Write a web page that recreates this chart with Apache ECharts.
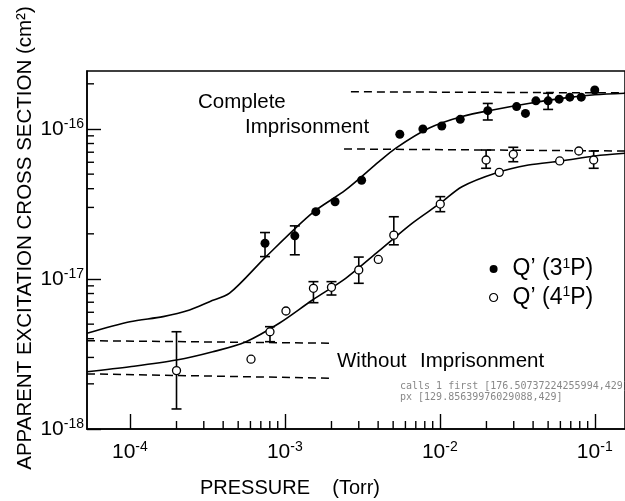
<!DOCTYPE html>
<html><head><meta charset="utf-8">
<script src="https://cdn.jsdelivr.net/npm/echarts@6/dist/echarts.min.js"></script>
<style>html,body{margin:0;padding:0;background:#fff}#c{width:625px;height:501px}#log{position:absolute;left:400px;top:380px;font:10px monospace;white-space:pre;color:#888}</style>
</head><body><div id="c"></div><div id="log"></div>
<script>
const dlog = m => { document.getElementById('log').textContent += m + '\n'; };
window.onerror = m => dlog('ERR ' + m);
// ---------------- data ----------------
const q3P_x = [7.45e-4, 1.16e-3, 1.585e-3, 2.11e-3, 3.13e-3, 5.52e-3, 7.78e-3, 1.03e-2, 1.355e-2, 2.04e-2, 3.13e-2, 3.57e-2, 4.17e-2, 5.0e-2, 5.89e-2, 6.90e-2, 8.18e-2, 0.100];
const q3P_y = [1.73e-17, 1.94e-17, 2.81e-17, 3.27e-17, 4.55e-17, 9.22e-17, 1.0e-16, 1.047e-16, 1.16e-16, 1.325e-16, 1.41e-16, 1.27e-16, 1.54e-16, 1.54e-16, 1.58e-16, 1.63e-16, 1.63e-16, 1.82e-16];
const q3P_errX = [7.45e-4, 1.16e-3, 2.04e-2, 5.0e-2];
const q3P_errLow = [1.41e-17, 1.45e-17, 1.148e-16, 1.35e-16];
const q3P_errHigh = [2.04e-17, 2.26e-17, 1.48e-16, 1.73e-16];
const q4P_x = [2.0e-4, 6.05e-4, 8.02e-4, 1.017e-3, 1.53e-3, 2.0e-3, 3.0e-3, 4.01e-3, 5.05e-3, 1.007e-2, 1.99e-2, 2.42e-2, 2.98e-2, 5.94e-2, 7.89e-2, 9.84e-2];
const q4P_y = [2.45e-18, 2.92e-18, 4.45e-18, 6.12e-18, 8.67e-18, 8.8e-18, 1.148e-17, 1.35e-17, 1.96e-17, 3.16e-17, 6.21e-17, 5.14e-17, 6.78e-17, 6.12e-17, 7.13e-17, 6.21e-17];
const q4P_errX = [2.0e-4, 8.02e-4, 1.53e-3, 2.0e-3, 3.0e-3, 5.05e-3, 1.007e-2, 1.99e-2, 2.98e-2, 9.84e-2];
const q4P_errLow = [1.36e-18, 3.82e-18, 6.95e-18, 7.82e-18, 9.36e-18, 1.69e-17, 2.81e-17, 5.47e-17, 6.05e-17, 5.47e-17];
const q4P_errHigh = [4.45e-18, 4.81e-18, 9.6e-18, 9.6e-18, 1.40e-17, 2.60e-17, 3.54e-17, 7.24e-17, 7.55e-17, 7.13e-17];
const curve3_x = [5.29e-5, 1.0e-4, 1.64e-4, 2.43e-4, 3.27e-4, 4.40e-4, 7.57e-4, 1.50e-3, 2.47e-3, 4.05e-3, 5.18e-3, 8.48e-3, 1.39e-2, 2.28e-2, 3.73e-2, 6.10e-2, 0.100, 0.1567];
const curve3_y = [4.35e-18, 5.19e-18, 5.61e-18, 6.21e-18, 7.06e-18, 8.04e-18, 1.41e-17, 2.75e-17, 3.92e-17, 6.05e-17, 7.43e-17, 1.01e-16, 1.21e-16, 1.35e-16, 1.48e-16, 1.60e-16, 1.69e-16, 1.73e-16];
const curve4_x = [5.29e-5, 1.0e-4, 2.0e-4, 3.43e-4, 5.62e-4, 9.2e-4, 1.51e-3, 2.47e-3, 4.05e-3, 6.62e-3, 1.007e-2, 1.39e-2, 2.28e-2, 3.73e-2, 6.10e-2, 0.100, 0.1567];
const curve4_y = [2.41e-18, 2.60e-18, 2.88e-18, 3.27e-18, 3.82e-18, 5.07e-18, 7.24e-18, 1.01e-17, 1.54e-17, 2.35e-17, 3.20e-17, 4.12e-17, 5.07e-17, 5.75e-17, 6.12e-17, 6.61e-17, 6.89e-17];
const dashC3_x = [2.67e-3, 0.1567], dashC3_y = [1.77e-16, 1.74e-16];
const dashC4_x = [2.41e-3, 0.1567], dashC4_y = [7.36e-17, 7.13e-17];
const dashW3_x = [5.29e-5, 2.02e-3], dashW3_y = [3.88e-18, 3.73e-18];
const dashW4_x = [5.29e-5, 2.02e-3], dashW4_y = [2.33e-18, 2.18e-18];
const xMin = 5.29e-5, xMax = 0.1567;
const yMin = 1e-18, yMax = 2.435e-16;
const xMajorTicks = [1e-4, 1e-3, 1e-2, 1e-1];
const xTickLabels = ['-4', '-3', '-2', '-1'];
const yMajorTicks = [1e-18, 1e-17, 1e-16];
const yTickLabels = ['-18', '-17', '-16'];
const minorMultipliers = [2, 3, 4, 5, 6, 7, 8, 9];
const seriesNames = ['Q3P', 'Q4P'];
const legendLabels = [['Q\u2019 (3', '1', 'P)'], ['Q\u2019 (4', '1', 'P)']];

const FONT = 'Liberation Sans, Arial, sans-serif';
const black = '#000';
const zip = (xs, ys) => xs.map((x, i) => [x, ys[i]]);
const zip3 = (xs, a, b) => xs.map((x, i) => [x, a[i], b[i]]);
const minorFrom = (majors, lo, hi) => {
  const out = [];
  majors.forEach(m => minorMultipliers.forEach(k => { const v = m * k; if (v > lo && v < hi) out.push(v); }));
  return out;
};
const xMinor = minorFrom(xMajorTicks, xMin, xMax);
const yMinor = minorFrom(yMajorTicks, yMin, yMax);
const findLabel = (ticks, labels, v) => {
  const i = ticks.findIndex(t => Math.abs(Math.log10(t) - Math.log10(v)) < 1e-6);
  return i < 0 ? null : labels[i];
};
const supLabel = (ticks, labels) => v => { const l = findLabel(ticks, labels, v); return l === null ? '' : '{b|10}{s|' + l + '}'; };
const rich = {
  b: { fontSize: 21, fontFamily: FONT, color: black, lineHeight: 24 },
  s: { fontSize: 14, fontFamily: FONT, color: black, verticalAlign: 'top', lineHeight: 14 }
};
function errRender(params, api) {
  const x = api.value(0), lo = api.value(1), hi = api.value(2);
  const p1 = api.coord([x, hi]), p2 = api.coord([x, lo]);
  const w = 5, st = { stroke: black, lineWidth: 1.6 };
  return { type: 'group', children: [
    { type: 'line', shape: { x1: p1[0], y1: p1[1], x2: p2[0], y2: p2[1] }, style: st },
    { type: 'line', shape: { x1: p1[0] - w, y1: p1[1], x2: p1[0] + w, y2: p1[1] }, style: st },
    { type: 'line', shape: { x1: p2[0] - w, y1: p2[1], x2: p2[0] + w, y2: p2[1] }, style: st }
  ]};
}
let tickCalls = 0, firstTick = '';
function tickRender(params, api) {
  tickCalls++;
  const ch = [];
  const xt = (v, len) => { const a = api.coord([v, yMin]); if (!firstTick) firstTick = JSON.stringify(a); ch.push({ type: 'line', shape: { x1: a[0], y1: a[1], x2: a[0], y2: a[1] - len }, style: { stroke: black, lineWidth: 1.4 } }); };
  const yt = (v, len) => { const a = api.coord([xMin, v]); ch.push({ type: 'line', shape: { x1: a[0], y1: a[1], x2: a[0] + len, y2: a[1] }, style: { stroke: black, lineWidth: 1.4 } }); };
  xMinor.forEach(v => xt(v, 8));
  yMinor.forEach(v => yt(v, 7));
  return { type: 'group', children: ch };
}
const dashStyle = { color: black, width: 1.5, type: [8, 5] };
const mkLine = (xs, ys, dashed) => ({
  type: 'line', data: zip(xs, ys), showSymbol: false, symbol: 'none', silent: true,
  smooth: dashed ? false : 0.3, z: 1,
  lineStyle: dashed ? dashStyle : { color: black, width: 1.6 }
});
const txt = (x, y, text) => ({ type: 'text', x, y, silent: true,
  style: { text, fontSize: 20.5, fontFamily: FONT, fill: black, align: 'left', verticalAlign: 'middle' } });

const chart = echarts.init(document.getElementById('c'), null, { renderer: 'canvas' });
chart.setOption({
  animation: false,
  backgroundColor: '#fff',
  grid: { left: 87, top: 71, right: -2, bottom: 72, show: true, borderColor: black, borderWidth: 1.5 },
  xAxis: { type: 'log', min: xMin, max: xMax,
    axisLine: { lineStyle: { color: black, width: 1.5 } },
    axisTick: { show: true, inside: true, length: 15, lineStyle: { color: black, width: 1.4 } },
    axisLabel: { margin: 11, rich, showMinLabel: false, showMaxLabel: false, formatter: supLabel(xMajorTicks, xTickLabels) },
    splitLine: { show: false } },
  yAxis: { type: 'log', min: yMin, max: yMax,
    axisLine: { show: true, lineStyle: { color: black, width: 1.5 } },
    axisTick: { show: true, inside: true, length: 14, lineStyle: { color: black, width: 1.4 } },
    axisLabel: { margin: 3, rich, showMaxLabel: false, formatter: supLabel(yMajorTicks, yTickLabels) },
    splitLine: { show: false } },
  legend: {
    orient: 'vertical', left: 489, top: 257, itemWidth: 8, itemHeight: 8, itemGap: 5, padding: 0,
    icon: 'circle',
    data: [
      { name: seriesNames[0], itemStyle: { color: black, borderWidth: 0 } },
      { name: seriesNames[1], itemStyle: { color: '#fff', borderColor: black, borderWidth: 1.2 } }
    ],
    formatter: name => { const l = legendLabels[seriesNames.indexOf(name)]; return '{a|' + l[0] + '}{s|' + l[1] + '}{a|' + l[2] + '}'; },
    textStyle: { padding: [0, 0, 0, 10], rich: {
      a: { fontSize: 23, fontFamily: FONT, color: black, lineHeight: 24 },
      s: { fontSize: 14, fontFamily: FONT, color: black, verticalAlign: 'top', lineHeight: 14 } } }
  },
  graphic: [
    { type: 'text', x: 25, y: 238, rotation: Math.PI / 2, silent: true, style: { text: 'APPARENT EXCITATION CROSS SECTION (cm\u00b2)', fontSize: 20.5, fontFamily: FONT, fill: black, align: 'center', verticalAlign: 'middle' } },
    { type: 'text', x: 290, y: 488, silent: true, style: { text: 'PRESSURE    (Torr)', fontSize: 20, fontFamily: FONT, fill: black, align: 'center', verticalAlign: 'middle' } },
    txt(198, 102, 'Complete'), txt(245, 127, 'Imprisonment'), txt(337, 361, 'Without'), txt(420, 361, 'Imprisonment')
  ],
  series: [
    { type: 'custom', renderItem: tickRender, data: [[1e-3, 1e-17]], encode: { x: 0, y: 1 } },
    mkLine(curve3_x, curve3_y, false),
    mkLine(curve4_x, curve4_y, false),
    mkLine(dashC3_x, dashC3_y, true),
    mkLine(dashC4_x, dashC4_y, true),
    mkLine(dashW3_x, dashW3_y, true),
    mkLine(dashW4_x, dashW4_y, true),
    { type: 'custom', renderItem: errRender, data: zip3(q3P_errX, q3P_errLow, q3P_errHigh), encode: { x: 0, y: [1, 2] }, z: 2, silent: true },
    { type: 'custom', renderItem: errRender, data: zip3(q4P_errX, q4P_errLow, q4P_errHigh), encode: { x: 0, y: [1, 2] }, z: 2, silent: true },
    { name: seriesNames[0], type: 'scatter', data: zip(q3P_x, q3P_y), symbol: 'circle', symbolSize: 9, z: 3, itemStyle: { color: black, opacity: 1 } },
    { name: seriesNames[1], type: 'scatter', data: zip(q4P_x, q4P_y), symbol: 'circle', symbolSize: 8, z: 3, itemStyle: { color: '#fff', borderColor: black, borderWidth: 1.3, opacity: 1 } }
  ]
});
dlog('calls ' + tickCalls + ' first ' + firstTick);
dlog('px ' + JSON.stringify(chart.convertToPixel({ gridIndex: 0 }, [1e-4, 1e-18])));
</script></body></html>
